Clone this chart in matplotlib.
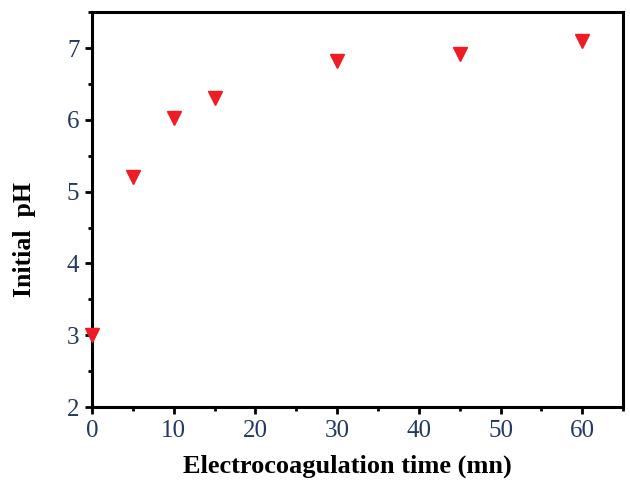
import numpy as np
import matplotlib.pyplot as plt
from matplotlib.ticker import MultipleLocator

# electrocoagulation time (mn) vs initial pH
time_mn = [0, 5, 10, 15, 30, 45, 60]
initial_ph = [3.0, 5.2, 6.02, 6.3, 6.82, 6.92, 7.1]

plt.rcParams['font.family'] = ['Liberation Serif', 'DejaVu Serif']

fig = plt.figure(figsize=(6.3, 4.84), dpi=100)
ax = fig.add_axes([0.146, 0.159, 0.843, 0.816])

ax.plot(time_mn, initial_ph, linestyle='none', marker='v', markersize=10.5,
        color='#ee1c25', clip_on=False, zorder=5)

ax.set_xlim(0, 65)
ax.set_ylim(2, 7.5)
ax.xaxis.set_major_locator(MultipleLocator(10))
ax.xaxis.set_minor_locator(MultipleLocator(5))
ax.yaxis.set_major_locator(MultipleLocator(1))
ax.yaxis.set_minor_locator(MultipleLocator(0.5))

for sp in ax.spines.values():
    sp.set_linewidth(2.2)

tick_color = '#23395d'
ax.tick_params(which='major', direction='out', length=5, width=2,
               labelsize=18, labelcolor=tick_color, pad=4)
ax.tick_params(which='minor', direction='out', length=3, width=2)

ax.set_xlabel('Electrocoagulation time (mn)', fontsize=19, fontweight='bold')
ax.set_ylabel('Initial  pH', fontsize=18.5, fontweight='bold')
ax.xaxis.set_label_coords(0.48, -0.12)
ax.yaxis.set_label_coords(-0.105, 0.423)

fig.savefig('out.png', dpi=100)
